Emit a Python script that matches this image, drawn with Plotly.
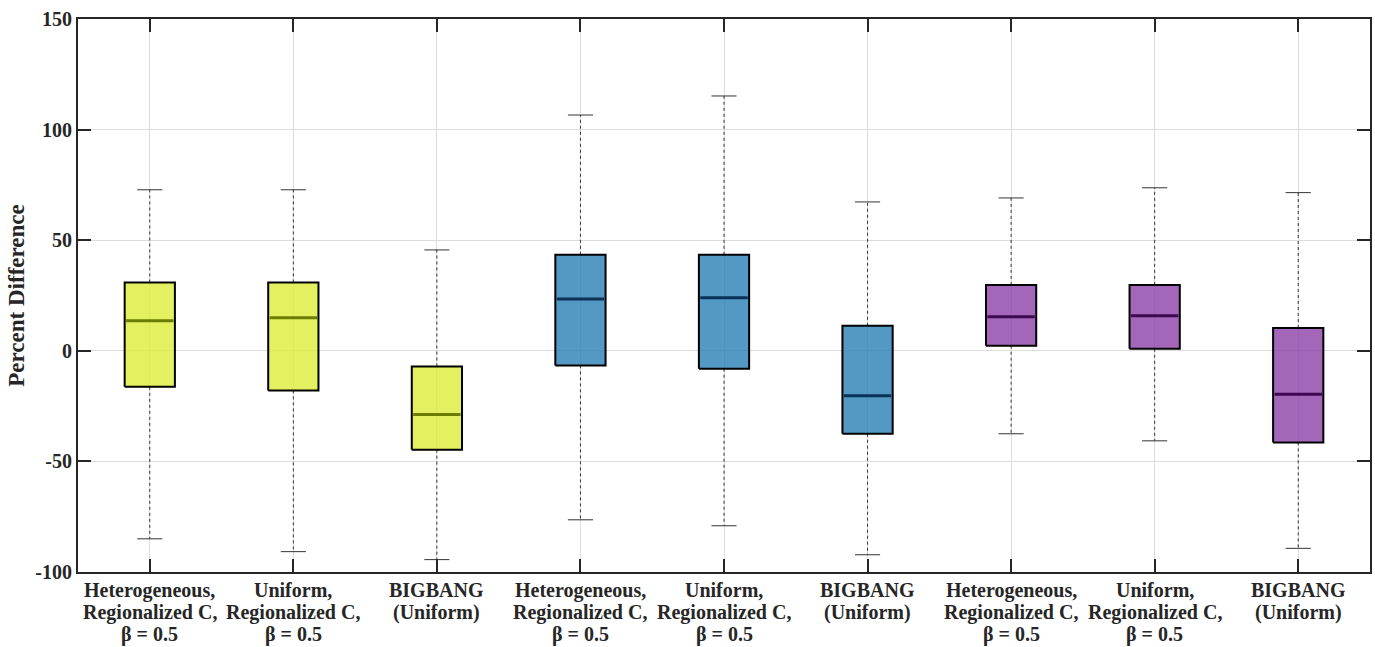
import plotly.graph_objects as go

category_lines = [
    ["Heterogeneous,", "Regionalized C,", "β = 0.5"],
    ["Uniform,", "Regionalized C,", "β = 0.5"],
    ["BIGBANG", "(Uniform)"],
    ["Heterogeneous,", "Regionalized C,", "β = 0.5"],
    ["Uniform,", "Regionalized C,", "β = 0.5"],
    ["BIGBANG", "(Uniform)"],
    ["Heterogeneous,", "Regionalized C,", "β = 0.5"],
    ["Uniform,", "Regionalized C,", "β = 0.5"],
    ["BIGBANG", "(Uniform)"],
]
upper_whisker = [72.8, 72.8, 45.6, 106.6, 115.2, 67.3, 69.1, 73.7, 71.5]
q3 = [30.9, 30.9, -7.1, 43.4, 43.4, 11.3, 29.8, 29.8, 10.3]
median = [13.6, 14.9, -28.8, 23.4, 24.0, -20.3, 15.4, 15.8, -19.6]
q1 = [-16.3, -17.9, -44.7, -6.6, -8.1, -37.5, 2.3, 0.9, -41.4]
lower_whisker = [-85.0, -90.8, -94.4, -76.4, -79.1, -92.2, -37.5, -40.7, -89.3]
fill_colors = ["rgba(220,236,56,0.8)"] * 3 + ["rgba(41,128,181,0.8)"] * 3 + ["rgba(140,64,166,0.8)"] * 3
median_colors = ["#6b7d00"] * 3 + ["#0b3157"] * 3 + ["#3d0850"] * 3
y_ticks = [-100, -50, 0, 50, 100, 150]

BOX_HALF = 0.175
CAP_HALF = 0.0875
FONT = "Liberation Serif"

fig = go.Figure()
positions = list(range(1, len(category_lines) + 1))

for i, x in enumerate(positions):
    # whiskers (dashed)
    fig.add_trace(go.Scatter(
        x=[x, x, None, x, x], y=[q3[i], upper_whisker[i], None, q1[i], lower_whisker[i]],
        mode="lines", line=dict(color="#333333", width=1, dash="3px,3px"),
        hoverinfo="skip", showlegend=False))
    # caps
    fig.add_trace(go.Scatter(
        x=[x - CAP_HALF, x + CAP_HALF, None, x - CAP_HALF, x + CAP_HALF],
        y=[upper_whisker[i], upper_whisker[i], None, lower_whisker[i], lower_whisker[i]],
        mode="lines", line=dict(color="#333333", width=1),
        hoverinfo="skip", showlegend=False))
    # box
    fig.add_trace(go.Scatter(
        x=[x - BOX_HALF, x + BOX_HALF, x + BOX_HALF, x - BOX_HALF, x - BOX_HALF],
        y=[q1[i], q1[i], q3[i], q3[i], q1[i]],
        mode="lines", fill="toself", fillcolor=fill_colors[i],
        line=dict(color="#000000", width=2),
        hoverinfo="skip", showlegend=False))
    # median
    fig.add_trace(go.Scatter(
        x=[x - BOX_HALF + 0.01, x + BOX_HALF - 0.01], y=[median[i], median[i]],
        mode="lines", line=dict(color=median_colors[i], width=3),
        hoverinfo="skip", showlegend=False))

# category labels (one annotation per line so line spacing matches)
for i, x in enumerate(positions):
    for k, line in enumerate(category_lines[i]):
        fig.add_annotation(
            x=x, xref="x", y=0, yref="paper", yanchor="middle",
            yshift=-(18 + 22 * k), text=f"<b>{line}</b>", showarrow=False,
            font=dict(family=FONT, size=20, color="#262626"))

fig.update_layout(
    width=1375, height=647,
    margin=dict(l=78, r=5, t=19, b=75),
    plot_bgcolor="white", paper_bgcolor="white",
    font=dict(family=FONT, size=20, color="#262626"),
)
fig.update_xaxes(
    range=[0.5, len(category_lines) + 0.5], automargin=False,
    tickmode="array", tickvals=positions, showticklabels=False,
    showgrid=True, gridcolor="#dcdcdc", gridwidth=1,
    ticks="inside", ticklen=13, tickwidth=1.5, tickcolor="#262626",
    showline=True, linecolor="#262626", linewidth=2, mirror="ticks",
    zeroline=False,
)
fig.update_yaxes(
    range=[-100, 150], automargin=False,
    tickmode="array", tickvals=y_ticks, ticktext=[f"<b>{v}</b>" for v in y_ticks],
    showgrid=True, gridcolor="#dcdcdc", gridwidth=1,
    ticks="inside", ticklen=13, tickwidth=1.5, tickcolor="#262626",
    showline=True, linecolor="#262626", linewidth=2, mirror="ticks",
    zeroline=False, tickfont=dict(family=FONT, size=20, color="#262626"),
    title=dict(text="<b>Percent Difference</b>", font=dict(family=FONT, size=23, color="#262626"), standoff=4),
)

fig.write_html("out.html")
